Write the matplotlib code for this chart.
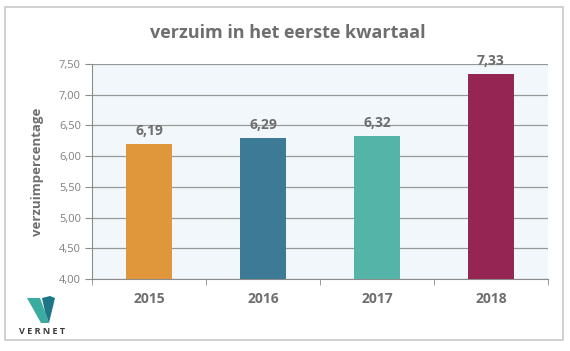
import matplotlib
matplotlib.use("Agg")
import matplotlib.pyplot as plt
from matplotlib.patches import Polygon, Rectangle
import numpy as np

years = ["2015", "2016", "2017", "2018"]
values = [6.19, 6.29, 6.32, 7.33]
labels = ["6,19", "6,29", "6,32", "7,33"]
colors = ["#e0963a", "#3d7a96", "#55b4a8", "#952653"]
yticks = [4.0, 4.5, 5.0, 5.5, 6.0, 6.5, 7.0, 7.5]

plt.rcParams['font.family'] = ['Open Sans', 'DejaVu Sans']
grey = "#6e6e6e"

fig = plt.figure(figsize=(5.7, 3.51), dpi=100)
fig.patch.set_facecolor("white")

# outer frame
fig.patches.append(Rectangle((0.009, 0.03), 0.978, 0.95, transform=fig.transFigure,
                             fill=False, edgecolor="#c8c8c8", linewidth=1.2))

ax = fig.add_axes([0.1614, 0.2051, 0.80, 0.6126])
ax.set_facecolor("#f2f7fb")

x = np.arange(len(years))
ax.bar(x, values, width=0.4, color=colors, bottom=0, zorder=3)
for xi, v, lab in zip(x, values, labels):
    ax.text(xi, v + 0.1, lab, ha="center", va="bottom", fontsize=10,
            fontweight="bold", color=grey, zorder=4)

ax.set_ylim(4.0, 7.5)
ax.set_xlim(-0.5, 3.5)
ax.set_yticks(yticks)
ax.set_yticklabels([("%.2f" % t).replace(".", ",") for t in yticks],
                   fontsize=8, color="#7f7f7f")
ax.yaxis.grid(True, color="#999999", linewidth=0.9, zorder=1)
ax.tick_params(axis="y", length=5, color="#8c8c8c", pad=3)

ax.set_xticks(x)
ax.set_xticklabels(years, fontsize=10, fontweight="bold", color=grey)
ax.tick_params(axis="x", length=0, pad=9)
# small ticks between categories
ax.set_xticks(np.arange(-0.5, 4.0, 1.0), minor=True)
ax.tick_params(axis="x", which="minor", length=4, color="#8c8c8c")

for s in ["top", "right"]:
    ax.spines[s].set_visible(False)
ax.spines["left"].set_color("#8c8c8c")
ax.spines["bottom"].set_color("#8c8c8c")

ax.set_ylabel("verzuimpercentage", fontsize=9.5, fontweight="bold", color=grey, labelpad=11)
fig.text(0.505, 0.905, "verzuim in het eerste kwartaal", ha="center", va="center",
         fontsize=13, fontweight="bold", color=grey)

# logo
def fx(px):
    return px / 570.0
def fy(py):
    return 1 - py / 351.0
left_v = Polygon([(fx(27), fy(298)), (fx(40), fy(298)), (fx(49), fy(323)), (fx(41), fy(323))],
                 closed=True, transform=fig.transFigure, facecolor="#3aab9f", edgecolor="none")
right_v = Polygon([(fx(42), fy(298)), (fx(50), fy(296)), (fx(55), fy(298)), (fx(49), fy(323)),
                   (fx(45), fy(312))],
                  closed=True, transform=fig.transFigure, facecolor="#1d7686", edgecolor="none")
fig.patches.append(left_v)
fig.patches.append(right_v)
fig.text(fx(42), fy(332), "V E R N E T", ha="center", va="center", fontsize=6.5,
         fontweight="bold", color="#3a3a3a")

fig.savefig("out.png", dpi=100)
